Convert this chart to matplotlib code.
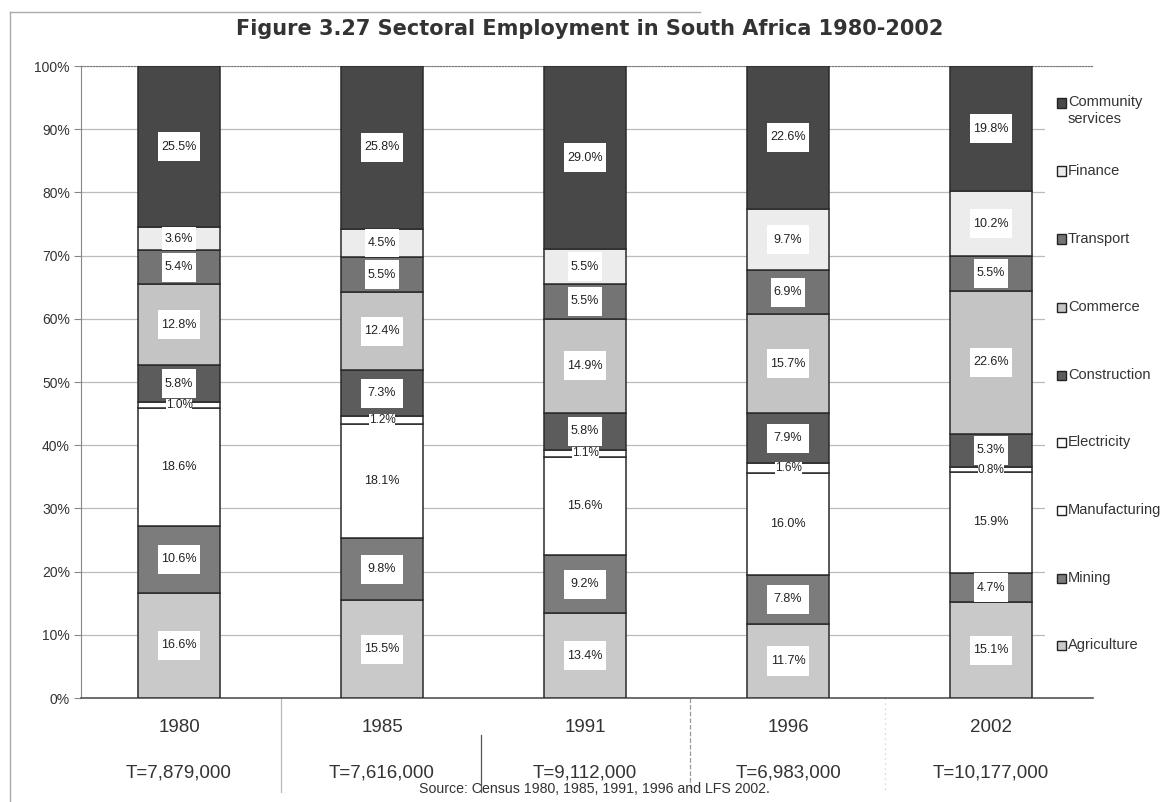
import numpy as np
import matplotlib
matplotlib.use("Agg")
import matplotlib.pyplot as plt
from matplotlib.patches import Rectangle
from matplotlib.lines import Line2D

plt.rcParams['font.family'] = ['Liberation Sans', 'DejaVu Sans']

years = ["1980", "1985", "1991", "1996", "2002"]
totals = ["T=7,879,000", "T=7,616,000", "T=9,112,000", "T=6,983,000", "T=10,177,000"]
sectors = ["Agriculture", "Mining", "Manufacturing", "Electricity", "Construction",
           "Commerce", "Transport", "Finance", "Community\nservices"]

# share of employment (%) per sector, columns = years
agriculture = [16.6, 15.5, 13.4, 11.7, 15.1]
mining = [10.6, 9.8, 9.2, 7.8, 4.7]
manufacturing = [18.6, 18.1, 15.6, 16.0, 15.9]
electricity = [1.0, 1.2, 1.1, 1.6, 0.8]
construction = [5.8, 7.3, 5.8, 7.9, 5.3]
commerce = [12.8, 12.4, 14.9, 15.7, 22.6]
transport = [5.4, 5.5, 5.5, 6.9, 5.5]
finance = [3.6, 4.5, 5.5, 9.7, 10.2]
community = [25.5, 25.8, 29.0, 22.6, 19.8]

series = [agriculture, mining, manufacturing, electricity, construction,
          commerce, transport, finance, community]
colors = ["#c9c9c9", "#7c7c7c", "#ffffff", "#ffffff", "#5c5c5c",
          "#c4c4c4", "#747474", "#ececec", "#484848"]

data = np.array(series)
# each bar is stretched to fill 100%
shares = data / data.sum(axis=0) * 100

W, H = 1169, 802
fig = plt.figure(figsize=(W / 100, H / 100), dpi=100)
ax = fig.add_axes([81 / W, 104 / H, 1012 / W, 632 / H])

x = np.arange(len(years))
bw = 0.404
bottom = np.zeros(len(years))
for vals, raw, col in zip(shares, data, colors):
    ax.bar(x, vals, bw, bottom=bottom, color=col, edgecolor="#2a2a2a",
           linewidth=1.1, zorder=3)
    for xi, b, v, r in zip(x, bottom, vals, raw):
        yc = b + v / 2
        if r < 2:
            ax.text(xi, yc, f"{r:.1f}%", ha="center", va="center", fontsize=8.5,
                    color="#222222", zorder=5,
                    bbox=dict(boxstyle="square,pad=0.0", fc="white", ec="none"))
            continue
        bh = min(v, 4.6)
        bwid = 0.17 if r < 7 else 0.21
        ax.add_patch(Rectangle((xi - bwid / 2, yc - bh / 2), bwid, bh,
                               facecolor="white", edgecolor="none", zorder=4))
        ax.text(xi, yc, f"{r:.1f}%", ha="center", va="center", fontsize=9,
                color="#222222", zorder=5)
    bottom += vals

ax.set_xlim(-0.483, 4.502)
ax.set_ylim(0, 100)
ax.set_yticks(np.arange(0, 101, 10))
ax.set_yticklabels([f"{v}%" for v in range(0, 101, 10)], fontsize=10, color="#333333")
ax.set_xticks([])
ax.tick_params(axis="y", length=5, color="#888888", pad=3)
ax.grid(axis="y", color="#bbbbbb", linewidth=0.9, zorder=0)
ax.spines["right"].set_visible(False)
ax.spines["top"].set_linestyle(":")
ax.spines["top"].set_color("#777777")
ax.spines["left"].set_color("#888888")
ax.spines["bottom"].set_color("#555555")
ax.spines["bottom"].set_linewidth(1.2)

# year and total labels under each bar
for xi, yr, tot in zip(x, years, totals):
    ax.text(xi, -4.6, yr, ha="center", va="center", fontsize=13.5, color="#333333",
            clip_on=False)
    ax.text(xi, -11.9, tot, ha="center", va="center", fontsize=13.5, color="#333333",
            clip_on=False)

# divider lines in the label strip
for xd, y0, ls, col in [(0.502, 0, "-", "#bbbbbb"), (1.488, -5.8, "-", "#555555"),
                        (2.517, 0, "--", "#999999"), (3.478, 0, (0, (1, 3)), "#cccccc")]:
    ax.add_line(Line2D([xd, xd], [y0, -14.8], color=col, linewidth=0.9,
                       linestyle=ls, clip_on=False))

fig.text(594 / W, 1 - 789 / H, "Source: Census 1980, 1985, 1991, 1996 and LFS 2002.",
         ha="center", va="center", fontsize=10.2, color="#333333")

fig.text(590 / W, 1 - 29 / H, "Figure 3.27 Sectoral Employment in South Africa 1980-2002",
         ha="center", va="center", fontsize=15, fontweight="bold", color="#333333",
         family=["DejaVu Sans"])

# legend panel to the right of the bars
fig.add_artist(Rectangle((1045 / W, 1 - 690 / H), 60 / W, 600 / H,
                         transform=fig.transFigure, facecolor="white",
                         edgecolor="none", zorder=2))
legend_y = [645, 578, 510, 442, 375, 307, 239, 171, 103]
for name, col, yp in zip(sectors, colors, legend_y):
    yf = 1 - yp / H
    fig.add_artist(Rectangle((1057 / W, yf - 4.5 / H), 9 / W, 9 / H,
                             transform=fig.transFigure, facecolor=col,
                             edgecolor="#222222", linewidth=1.0, zorder=3))
    if "\n" in name:
        # two-line entry hangs from the marker line
        fig.text(1068 / W, yf + 8 / H, name, ha="left", va="top", fontsize=10.5,
                 color="#333333", linespacing=1.25, zorder=3)
    else:
        fig.text(1068 / W, yf, name, ha="left", va="center", fontsize=10.5,
                 color="#333333", zorder=3)

# outer frame of the chart
fig.add_artist(Line2D([10 / W, 10 / W], [0.0, 1 - 12 / H], color="#aaaaaa",
                      linewidth=1.0, transform=fig.transFigure))
fig.add_artist(Line2D([10 / W, 700 / W], [1 - 12 / H, 1 - 12 / H], color="#aaaaaa",
                      linewidth=1.0, transform=fig.transFigure))

fig.savefig("out.png", dpi=100)
